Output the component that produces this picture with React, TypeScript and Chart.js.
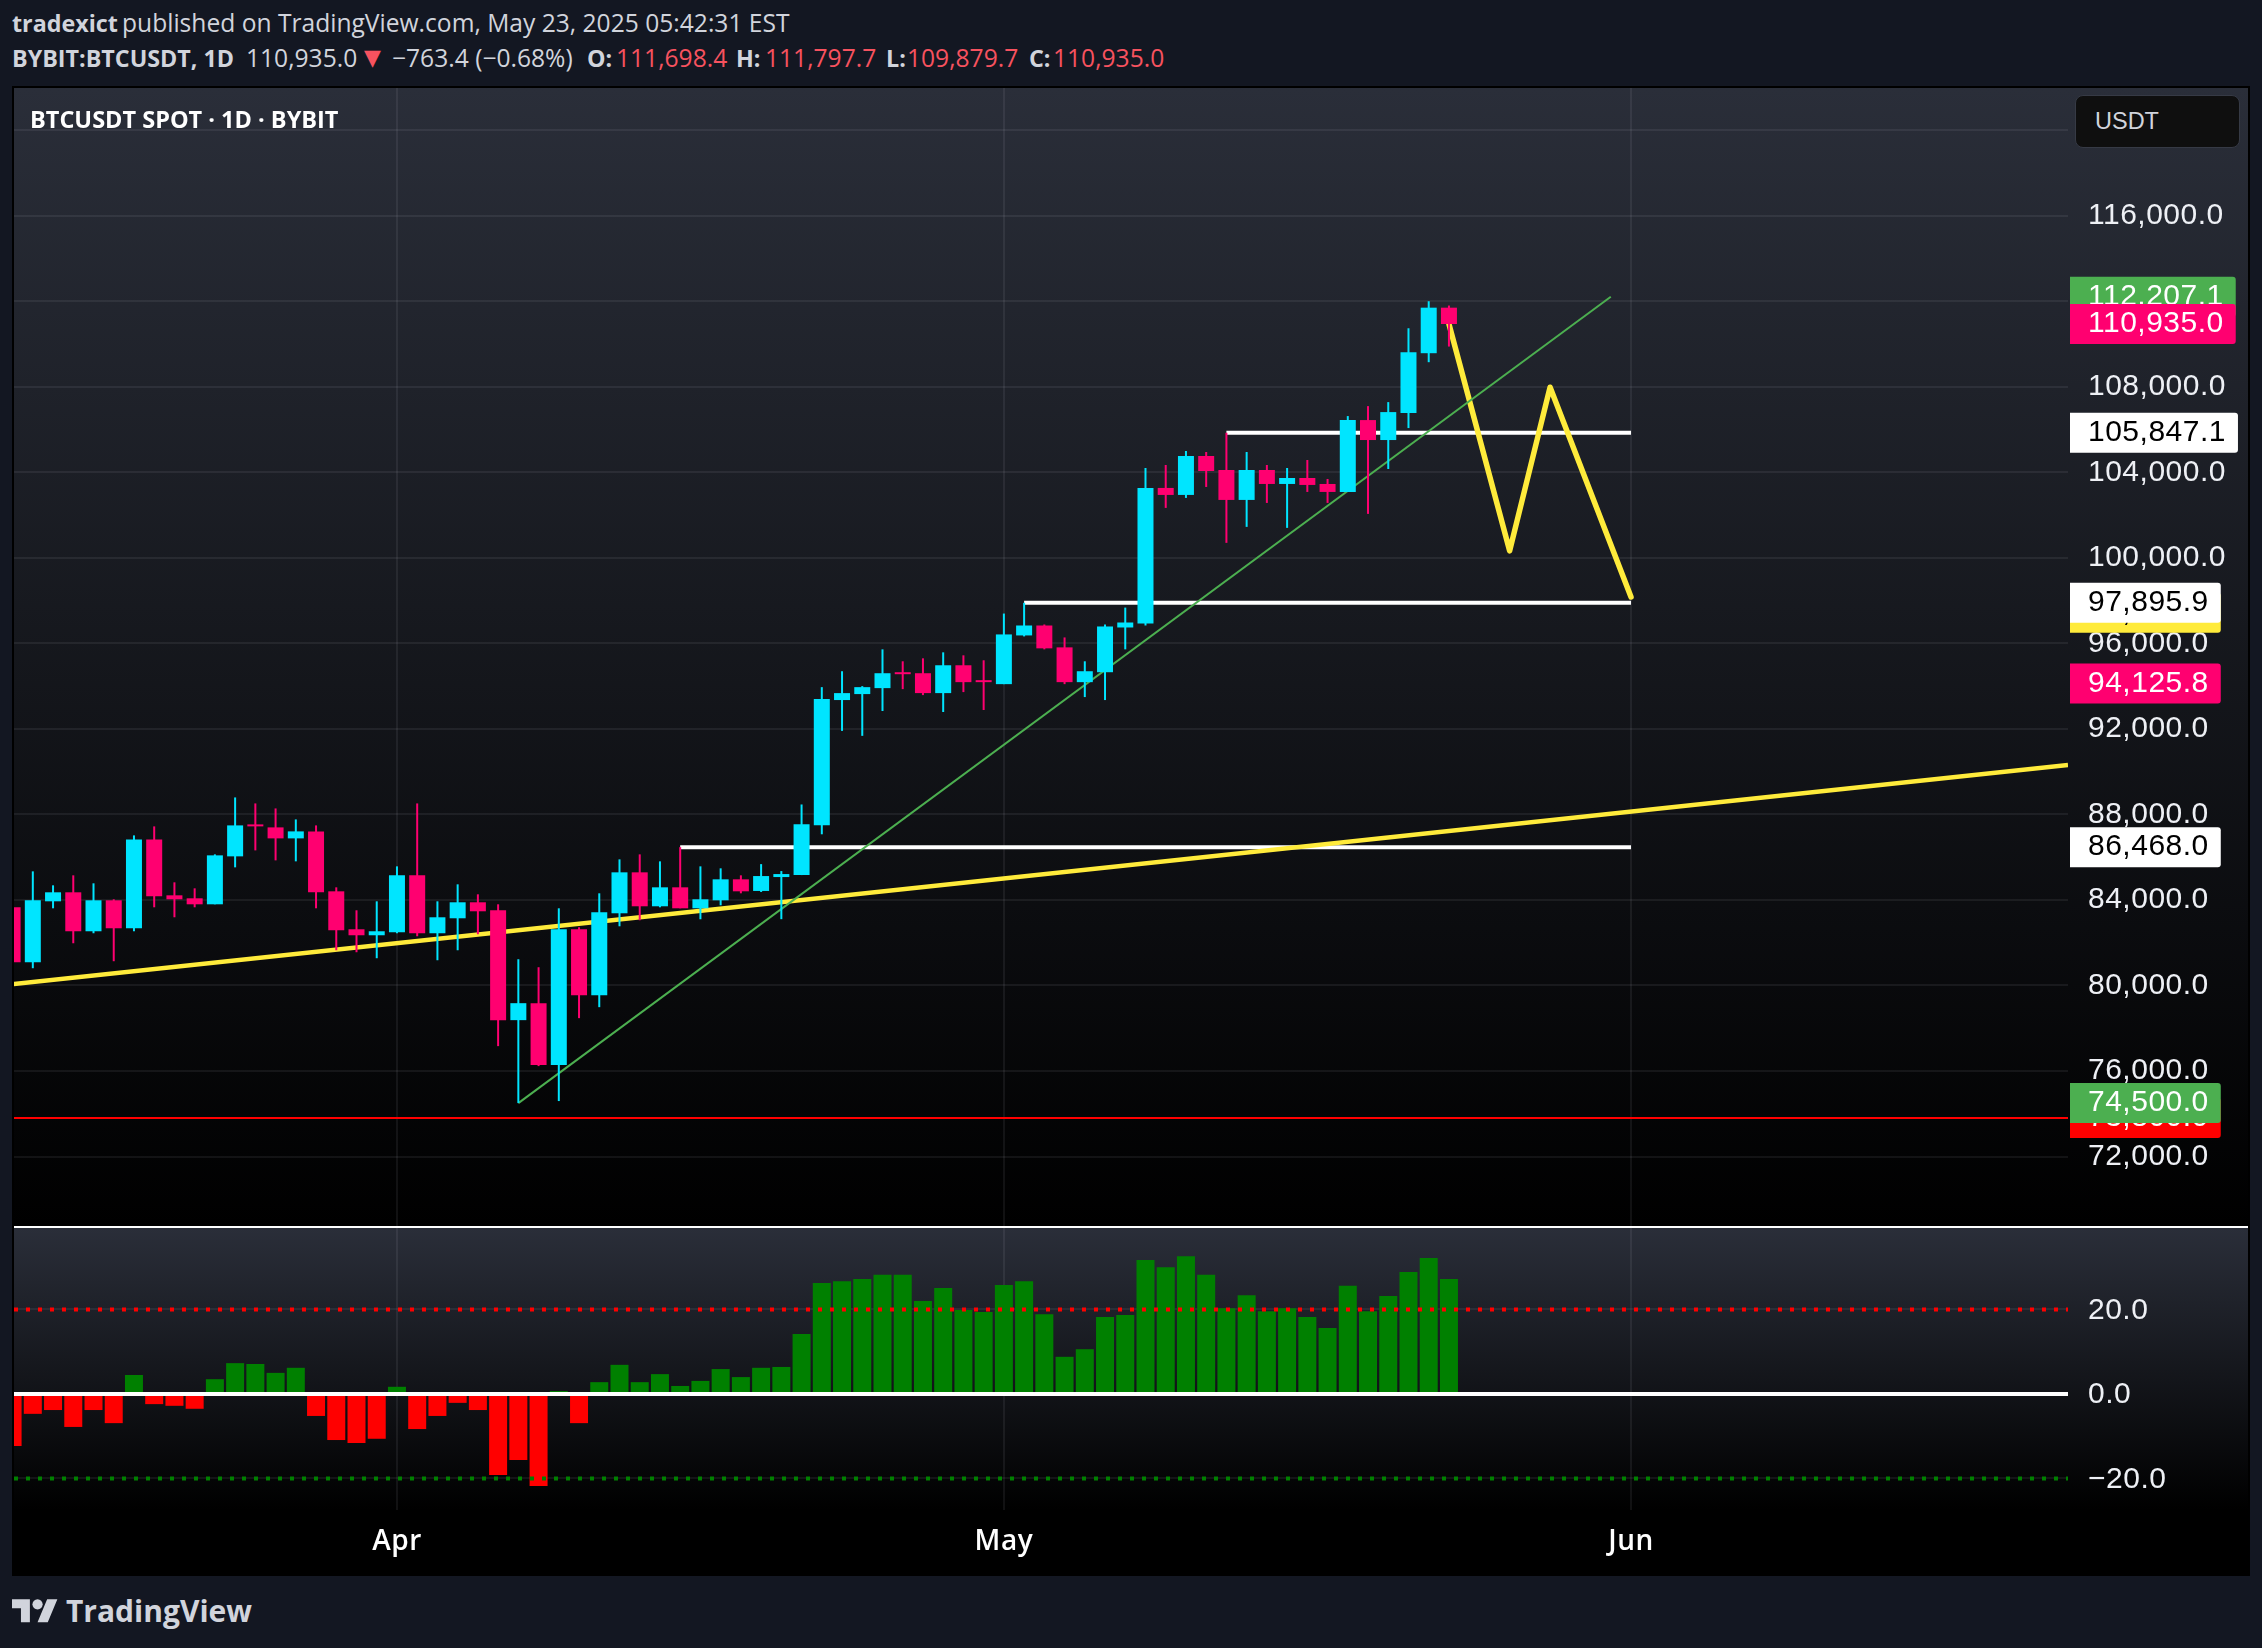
import React, { useEffect, useRef } from "react";
import { Chart, registerables } from "chart.js";

Chart.register(...registerables);

const firstDay = -19;
const opens = [83656,81087,83936,84357,82535,83983,82675,86832,84216,84076,83796,86038,87533,87393,86879,87206,84403,82628,82348,82488,85151,82442,83142,83890,83516,78378,79172,76276,82628,79546,83376,85291,83703,84590,83609,83983,84964,84420,85070,85163,87488,93348,93627,93906,94650,94603,93673,94975,94278,94092,96370,96835,95812,94185,94650,96742,96928,103268,102941,104761,104108,102707,104108,103454,103734,103454,103081,106442,105508,106769,109569,111698.4];
const highs = [84300,85337,84684,85151,84777,84030,87019,87440,84824,84543,86132,88794,88514,88280,87766,87486,84590,83516,83936,85571,88514,83936,84730,84263,83796,81227,80853,83609,82722,84310,85898,86132,85805,86468,85571,85478,85151,85675,85350,88465,93952,94696,93999,95719,95161,95300,95580,95440,95208,97393,97895.9,96882,96277,95161,96882,97672,104201,104341,104995,104948,105847.1,104948,104341,104201,104575,103688,106629,107095,107282,110736,112000,111797.7];
const lows = [80700,80807,83609,81974,82442,81134,82535,83656,83189,83656,83796,85524,86318,85851,85805,83609,81647,81554,81274,82442,82301,81180,81647,82395,77163,74500,76229,74594,78471,78985,82768,83049,83656,83609,83096,83749,84310,84373,83100,85163,87070,91906,91674,92836,93859,93580,92790,93720,92883,94092,96324,95719,94092,93487,93348,95719,96835,102334,102801,103314,100700,101447,102567,101400,103081,102567,103081,102054,104155,106068,109149,109879.7];
const closes = [81087,83983,84357,82535,83983,82675,86832,84170,84030,83796,86085,87486,87440,86879,87206,84357,82582,82348,82535,85151,82442,83189,83890,83469,78378,79172,76276,82628,79546,83422,85291,83703,84590,83609,84030,84964,84403,85117,85210,87535,93394,93673,93952,94603,94557,93673,94975,94185,94185,96417,96835,95766,94185,94696,96789,96975,103268,102941,104761,104061,102707,104108,103454,103734,103408,103081,106442,105508,106815,109616,111698.4,110935];
const oscillator = [-12.3,-4.7,-3.8,-7.8,-3.8,-6.9,4.5,-2.4,-2.8,-3.5,3.5,7.3,7.1,5.0,6.2,-5.2,-10.9,-11.6,-10.6,1.7,-8.3,-5.2,-2.1,-3.8,-19.2,-15.6,-21.8,0.7,-6.9,2.8,6.9,2.8,4.7,1.9,3.1,5.9,4.0,6.2,6.4,14.2,26.3,26.7,27.2,28.2,28.2,22.0,25.1,19.9,19.4,25.8,26.7,18.9,8.8,10.6,18.2,18.7,31.7,30.0,32.6,28.2,20.3,23.4,19.6,20.3,18.2,15.6,25.6,19.6,23.2,28.9,32.2,27.2];

const monthDays = [0, 30, 61];
const monthNames = ["Apr", "May", "Jun"];
const priceTicks = [72000,76000,80000,84000,88000,92000,96000,100000,104000,108000,112000,116000,120000];
const hiddenPriceLabel = 120000;
const oscTicks = [-20, 0, 20];

const xMin = -18.93;
const xMax = 82.6;
const yMin = 68751;
const yMax = 121972;
const oscMin = -27.46;
const oscMax = 39.29;

const risingTrendDays = [-19, 82.6];
const risingTrendValues = [80059, 90310];
const greenTrendDays = [6, 60];
const greenTrendValues = [74500, 112207.1];
const zigzagDays = [52, 55, 57, 61];
const zigzagValues = [110935, 100327, 107980, 98166];
const levelStarts = [41, 31, 14];
const levelValues = [105847.1, 97895.9, 86468];
const levelEnd = 61;
const supportValue = 73800;

const tagValues = [73800, 74500, 97432, 97895.9, 94125.8, 86468, 105847.1, 112207.1, 110935];
const tagTexts = ["73,800.0", "74,500.0", "97,432.0", "97,895.9", "94,125.8", "86,468.0", "105,847.1", "112,207.1", "110,935.0"];
const tagFills = ["#ff0000", "#4caf50", "#ffeb3b", "#ffffff", "#ff0070", "#ffffff", "#ffffff", "#4caf50", "#ff0070"];
const tagInks = ["#ffffff", "#ffffff", "#000000", "#000000", "#ffffff", "#000000", "#000000", "#ffffff", "#ffffff"];

const UP = "#00e5ff";
const DOWN = "#ff0070";
const GRID = "rgba(240,243,250,0.07)";
const AXIS_FONT = "'Liberation Sans'";
const UI_FONT = "'Open Sans'";
const LETTER_GAP = "0.5px";

const days = opens.map((_, i) => firstDay + i);
const candleColors = opens.map((o, i) => (closes[i] >= o ? UP : DOWN));
const lineData = (xs: number[], ys: number[]) => xs.map((x, i) => ({ x, y: ys[i] }));

const fmt = (v: number) =>
  v.toLocaleString("en-US", { minimumFractionDigits: 1, maximumFractionDigits: 1 }).replace("-", "\u2212");

const noPad = (s: any) => {
  s.paddingTop = 0;
  s.paddingBottom = 0;
  s.paddingLeft = 0;
  s.paddingRight = 0;
};

const tagPlugin = {
  id: "priceTags",
  afterDraw(chart: any) {
    const { ctx, chartArea, scales } = chart;
    ctx.save();
    ctx.font = `30px ${AXIS_FONT}`;
    ctx.letterSpacing = LETTER_GAP;
    ctx.textBaseline = "middle";
    ctx.textAlign = "left";
    tagValues.forEach((v, i) => {
      const y = scales.y.getPixelForValue(v);
      const w = ctx.measureText(tagTexts[i]).width + 30;
      ctx.fillStyle = tagFills[i];
      ctx.beginPath();
      ctx.roundRect(chartArea.right + 2, y - 20, w, 40, [0, 3, 3, 0]);
      ctx.fill();
      ctx.fillStyle = tagInks[i];
      ctx.fillText(tagTexts[i], chartArea.right + 20, y);
    });
    ctx.restore();
  },
};

const spacingPlugin = {
  id: "axisSpacing",
  beforeDraw(chart: any) {
    chart.ctx.letterSpacing = LETTER_GAP;
  },
};

const baseOptions = {
  responsive: false,
  animation: false as const,
  devicePixelRatio: 1,
  events: [] as string[],
  layout: { padding: 0 },
  plugins: { legend: { display: false }, tooltip: { enabled: false } },
};

const yAxisCommon = {
  position: "right" as const,
  border: { display: false },
  grid: { color: GRID, lineWidth: 2, drawTicks: false },
  afterFit(s: any) {
    s.width = 180;
    noPad(s);
  },
};

const line = (data: any[], color: string, width: number, order: number, extra: any = {}) => ({
  type: "line" as const,
  data,
  borderColor: color,
  borderWidth: width,
  pointRadius: 0,
  tension: 0,
  order,
  ...extra,
});

function Text({ x, y, size, weight, color, font, children }: any) {
  return (
    <span
      style={{
        position: "absolute",
        left: x,
        top: y,
        fontSize: size,
        fontWeight: weight,
        color,
        fontFamily: font || UI_FONT,
        lineHeight: "34px",
        whiteSpace: "nowrap",
      }}
    >
      {children}
    </span>
  );
}

export default function App() {
  const mainRef = useRef<HTMLCanvasElement>(null);
  const oscRef = useRef<HTMLCanvasElement>(null);

  useEffect(() => {
    const main = new Chart(mainRef.current as HTMLCanvasElement, {
      type: "bar",
      data: {
        datasets: [
          {
            data: days.map((x, i) => ({ x, y: [opens[i], closes[i]] })),
            backgroundColor: candleColors,
            barThickness: 16,
            grouped: false,
            inflateAmount: 0,
            order: 1,
          } as any,
          {
            data: days.map((x, i) => ({ x, y: [lows[i], highs[i]] })),
            backgroundColor: candleColors,
            barThickness: 2,
            grouped: false,
            inflateAmount: 0,
            order: 2,
          } as any,
          ...levelValues.map((v, i) =>
            line(lineData([levelStarts[i], levelEnd], [v, v]), "#ffffff", 4, 5)
          ),
          line(lineData(risingTrendDays, risingTrendValues), "#ffeb3b", 4.5, 4),
          line(lineData(zigzagDays, zigzagValues), "#ffeb3b", 5.5, 4, {
            borderJoinStyle: "round",
            borderCapStyle: "round",
          }),
          line(lineData(greenTrendDays, greenTrendValues), "#4caf50", 2, 3),
          line(lineData([xMin, xMax], [supportValue, supportValue]), "#ff0000", 2, 6),
        ],
      },
      options: {
        ...baseOptions,
        scales: {
          x: {
            type: "linear",
            min: xMin,
            max: xMax,
            offset: false,
            border: { display: false },
            grid: { color: GRID, lineWidth: 2, offset: false, drawTicks: false },
            ticks: { display: false },
            afterBuildTicks(s: any) {
              s.ticks = monthDays.map((value) => ({ value }));
            },
            afterFit(s: any) {
              s.height = 0;
              noPad(s);
            },
          },
          y: {
            ...yAxisCommon,
            type: "linear",
            min: yMin,
            max: yMax,
            afterBuildTicks(s: any) {
              s.ticks = priceTicks.map((value) => ({ value }));
            },
            ticks: {
              padding: 20,
              color: "#eef0f5",
              font: { family: "Liberation Sans", size: 30 },
              autoSkip: false,
              callback: (v: any) => (v === hiddenPriceLabel ? "" : fmt(v)),
            },
          },
        },
      } as any,
      plugins: [spacingPlugin, tagPlugin],
    });

    const osc = new Chart(oscRef.current as HTMLCanvasElement, {
      type: "bar",
      data: {
        datasets: [
          {
            data: days.map((x, i) => ({ x, y: oscillator[i] })),
            backgroundColor: oscillator.map((v) => (v >= 0 ? "#008000" : "#ff0000")),
            barThickness: 18,
            grouped: false,
            inflateAmount: 0,
            order: 3,
          } as any,
          line(lineData([xMin, xMax], [20, 20]), "#ff0000", 4, 2, { borderDash: [4, 8] }),
          line(lineData([xMin, xMax], [-20, -20]), "#008000", 4, 2, { borderDash: [4, 8] }),
          line(lineData([xMin, xMax], [0, 0]), "#ffffff", 4, 1),
        ],
      },
      options: {
        ...baseOptions,
        scales: {
          x: {
            type: "linear",
            min: xMin,
            max: xMax,
            offset: false,
            border: { display: false },
            grid: { color: GRID, lineWidth: 2, offset: false, drawTicks: false },
            afterBuildTicks(s: any) {
              s.ticks = monthDays.map((value) => ({ value }));
            },
            afterFit(s: any) {
              s.height = 66;
              noPad(s);
            },
            ticks: {
              padding: 15,
              maxRotation: 0,
              autoSkip: false,
              color: "#ffffff",
              font: { family: "Open Sans", size: 28, weight: "600" },
              callback: (v: any) => monthNames[monthDays.indexOf(v)],
            },
          },
          y: {
            ...yAxisCommon,
            type: "linear",
            min: oscMin,
            max: oscMax,
            afterBuildTicks(s: any) {
              s.ticks = oscTicks.map((value) => ({ value }));
            },
            ticks: {
              padding: 20,
              labelOffset: 1,
              color: "#eef0f5",
              font: { family: "Liberation Sans", size: 30 },
              autoSkip: false,
              callback: (v: any) => fmt(v),
            },
          },
        },
      } as any,
      plugins: [spacingPlugin],
    });

    return () => {
      main.destroy();
      osc.destroy();
    };
  }, []);

  const GREY = "#d1d4dc";
  const RED = "#f7525f";
  const BOLD = 23.3;
  const REG = 24.6;
  return (
    <div style={{ position: "absolute", left: 0, top: 0, width: 2262, height: 1648, background: "#131722", overflow: "hidden" }}>
      <Text x={12} y={6} size={BOLD} weight={700} color={GREY}>tradexict</Text>
      <Text x={122} y={6} size={REG} weight={400} color={GREY}>published on TradingView.com, May 23, 2025 05:42:31 EST</Text>
      <Text x={12} y={41} size={BOLD} weight={700} color={GREY}>BYBIT:BTCUSDT, 1D</Text>
      <Text x={246} y={41} size={REG} weight={400} color={GREY}>110,935.0</Text>
      <Text x={364} y={41} size={22} weight={400} color={RED} font="'DejaVu Sans'">▼</Text>
      <Text x={392} y={41} size={REG} weight={400} color={GREY}>−763.4 (−0.68%)</Text>
      <Text x={587} y={41} size={BOLD} weight={700} color={GREY}>O:</Text>
      <Text x={616} y={41} size={REG} weight={400} color={RED}>111,698.4</Text>
      <Text x={736} y={41} size={BOLD} weight={700} color={GREY}>H:</Text>
      <Text x={765} y={41} size={REG} weight={400} color={RED}>111,797.7</Text>
      <Text x={886} y={41} size={BOLD} weight={700} color={GREY}>L:</Text>
      <Text x={907} y={41} size={REG} weight={400} color={RED}>109,879.7</Text>
      <Text x={1029} y={41} size={BOLD} weight={700} color={GREY}>C:</Text>
      <Text x={1053} y={41} size={REG} weight={400} color={RED}>110,935.0</Text>

      <div style={{ position: "absolute", left: 12, top: 86, width: 2238, height: 1490, background: "#000" }} />
      <div style={{ position: "absolute", left: 14, top: 88, width: 2234, height: 1138, background: "linear-gradient(#2a2e39, #000)" }} />
      <div style={{ position: "absolute", left: 14, top: 1226, width: 2234, height: 2, background: "#fff" }} />
      <div style={{ position: "absolute", left: 14, top: 1228, width: 2234, height: 282, background: "linear-gradient(#2a2e39, #000)" }} />

      <canvas ref={mainRef} width={2234} height={1138} style={{ position: "absolute", left: 14, top: 88, display: "block" }} />
      <canvas ref={oscRef} width={2234} height={348} style={{ position: "absolute", left: 14, top: 1228, display: "block" }} />

      <Text x={30} y={102} size={23.5} weight={700} color="#ffffff">BTCUSDT SPOT · 1D · BYBIT</Text>
      <div style={{ position: "absolute", left: 2075, top: 95, width: 165, height: 53, boxSizing: "border-box", background: "#0f0f0f", border: "1px solid #363a45", borderRadius: 8 }} />
      <Text x={2095} y={104} size={23.5} weight={400} color={GREY} font={AXIS_FONT}>USDT</Text>

      <svg style={{ position: "absolute", left: 12, top: 1594 }} width={46} height={36} viewBox="0 0 36 28" fill="#d1d4dc">
        <path d="M14 22H7V11H0V4h14v18zM28 22h-8l7.5-18h8L28 22z" />
        <circle cx="20" cy="8" r="4" />
      </svg>
      <Text x={66} y={1594} size={30} weight={700} color={GREY}>TradingView</Text>
    </div>
  );
}
